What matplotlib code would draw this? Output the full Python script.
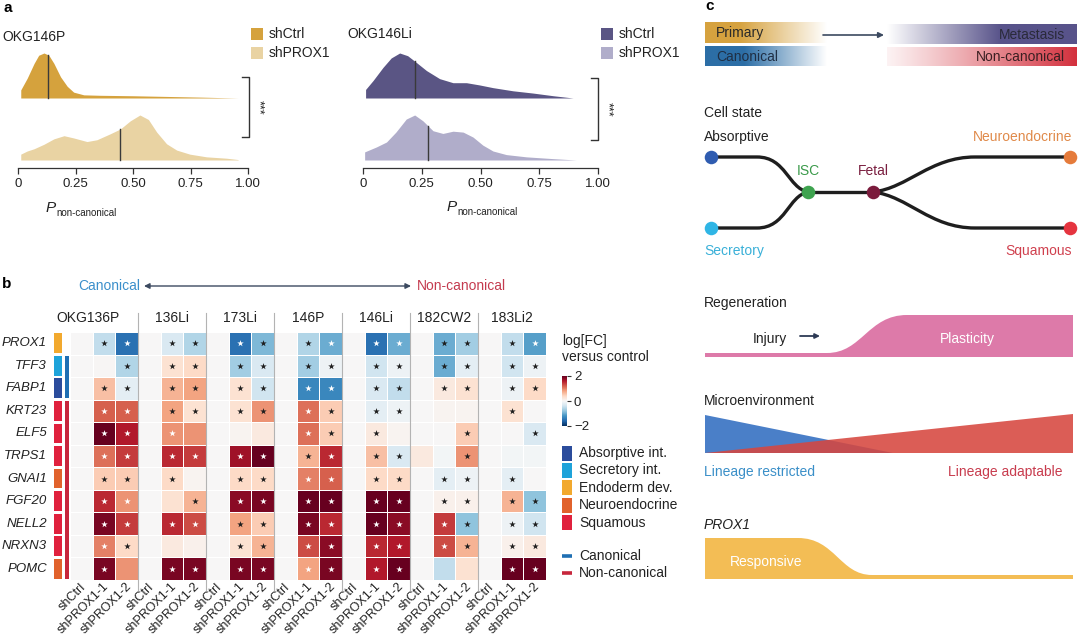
import numpy as np
import matplotlib
matplotlib.use('Agg')
import matplotlib.pyplot as plt
from matplotlib.path import Path
from matplotlib.patches import PathPatch, Rectangle, Polygon, FancyArrowPatch
from matplotlib.colors import to_rgb
from matplotlib.cm import ScalarMappable
from matplotlib.colors import Normalize

plt.rcParams['font.family'] = ['Liberation Sans', 'DejaVu Sans']

# ---------------- DATA ----------------
# panel a: ridge densities (x, relative height), medians
a_left_title = 'OKG146P'
a_right_title = 'OKG146Li'
a_groups = ['shCtrl', 'shPROX1']
left_ctrl_x = [0.012, 0.04, 0.07, 0.09, 0.113, 0.134, 0.156, 0.185, 0.214, 0.242, 0.286, 0.358, 0.50, 0.646, 0.79, 0.957]
left_ctrl_h = [0.18, 0.44, 0.77, 0.95, 1.0, 0.95, 0.77, 0.47, 0.26, 0.13, 0.07, 0.06, 0.05, 0.035, 0.02, 0.0]
left_prox_x = [0.012, 0.04, 0.07, 0.113, 0.156, 0.2, 0.242, 0.3, 0.343, 0.40, 0.445, 0.488, 0.53, 0.567, 0.603, 0.646, 0.69, 0.747, 0.82, 0.906, 0.957]
left_prox_h = [0.13, 0.2, 0.25, 0.35, 0.47, 0.54, 0.49, 0.41, 0.45, 0.58, 0.69, 0.87, 1.0, 0.9, 0.62, 0.36, 0.22, 0.13, 0.07, 0.04, 0.01]
right_ctrl_x = [0.011, 0.043, 0.085, 0.12, 0.156, 0.19, 0.227, 0.27, 0.326, 0.383, 0.44, 0.496, 0.553, 0.638, 0.723, 0.81, 0.894]
right_ctrl_h = [0.19, 0.39, 0.68, 0.89, 1.0, 0.94, 0.79, 0.61, 0.43, 0.34, 0.34, 0.29, 0.23, 0.16, 0.11, 0.05, 0.0]
right_prox_x = [0.007, 0.057, 0.1, 0.14, 0.184, 0.22, 0.255, 0.298, 0.34, 0.383, 0.426, 0.468, 0.51, 0.553, 0.61, 0.695, 0.81, 0.908]
right_prox_h = [0.18, 0.29, 0.40, 0.62, 0.91, 1.0, 0.87, 0.65, 0.59, 0.64, 0.62, 0.51, 0.33, 0.20, 0.12, 0.07, 0.03, 0.0]
left_medians = [0.131, 0.444]
right_medians = [0.22, 0.277]
a_ticks = [0, 0.25, 0.5, 0.75, 1.0]
a_ticklabels = ['0', '0.25', '0.50', '0.75', '1.00']

# panel b: heatmap
genes = ['PROX1', 'TFF3', 'FABP1', 'KRT23', 'ELF5', 'TRPS1', 'GNAI1', 'FGF20', 'NELL2', 'NRXN3', 'POMC']
gene_category = ['Endoderm dev.', 'Secretory int.', 'Absorptive int.', 'Squamous', 'Squamous', 'Squamous',
                 'Neuroendocrine', 'Squamous', 'Squamous', 'Squamous', 'Neuroendocrine']
gene_class = ['', 'Canonical', 'Canonical'] + ['Non-canonical'] * 8
lines = ['OKG136P', '136Li', '173Li', '146P', '146Li', '182CW2', '183Li2']
conditions = ['shCtrl', 'shPROX1-1', 'shPROX1-2']
logfc = [
    [0, -0.5, -1.5, 0, -0.3, -0.6, 0, -1.5, -0.9, 0, -0.6, -1.0, 0, -1.5, -1.0, 0, -1.0, -0.7, 0, -0.5, -1.1],
    [0, 0.02, -0.6, 0, 0.3, 0.4, 0, -0.7, -0.3, 0, -0.7, -0.1, 0, -0.4, -0.1, 0, -1.0, -0.2, 0, -0.4, -0.1],
    [0, 0.6, -0.2, 0, 0.7, 0.8, 0, 0.3, -0.4, 0, -1.3, -1.3, 0, -0.3, -0.5, 0, 0.2, 0.3, 0, -0.1, 0.4],
    [0, 1.2, 1.2, 0, 0.8, 0.3, 0, 0.3, 0.9, 0, 1.1, 0.5, 0, -0.2, -0.1, 0, 0.05, 0.05, 0, 0.3, 0.0],
    [0, 2.0, 1.6, 0, 0.9, 0.9, 0, 0.05, 0.2, 0, 1.1, 0.5, 0, 0.2, 0.05, 0, 0.0, 0.5, 0, 0.0, -0.3],
    [0, 1.1, 1.4, 0, 1.5, 1.4, 0, 1.7, 2.0, 0, 0.7, 1.5, 0, 0.6, -0.3, 0.2, -0.05, 0.9, 0, -0.05, -0.05],
    [0, 0.5, 0.5, 0, 0.4, 0.05, 0, 0.4, 0.4, 0, 1.0, 1.2, 0, 0.4, 0.4, 0, -0.2, -0.1, 0, -0.2, 0.0],
    [0, 1.5, 0.9, 0, 0.3, 0.7, 0, 1.8, 1.9, 0, 2.0, 2.0, 0, 2.0, 2.0, 0, 0.1, 0.1, 0, 0.7, -0.8],
    [0, 1.9, 1.4, 0, 1.5, 1.3, 0, 0.8, 0.5, 0, 1.9, 1.5, 0, 2.0, 1.8, 0, 1.4, -0.8, 0, -0.1, -0.4],
    [0, 1.0, 0.4, 0, 0.2, 0.1, 0, 0.3, 0.7, 0, 1.3, 1.8, 0, 1.5, 1.6, 0, 1.3, 0.7, 0, 0.1, 0.2],
    [0, 1.9, 0.9, 0, 1.9, 1.9, 0, 1.9, 1.9, 0, 0.8, 1.9, 0, 1.6, 2.0, 0, -0.5, 0.3, 0, 2.0, 2.0],
]
# 0 = no star, 1 = dark star, 2 = white star
stars = [
    [0, 1, 2, 0, 1, 1, 0, 2, 1, 0, 1, 2, 0, 2, 2, 0, 1, 1, 0, 1, 2],
    [0, 0, 1, 0, 1, 1, 0, 1, 1, 0, 1, 1, 0, 1, 1, 0, 1, 1, 0, 1, 1],
    [0, 1, 1, 0, 1, 1, 0, 1, 1, 0, 2, 2, 0, 1, 1, 0, 1, 1, 0, 1, 1],
    [0, 2, 2, 0, 1, 1, 0, 1, 1, 0, 2, 1, 0, 1, 1, 0, 0, 0, 0, 1, 0],
    [0, 2, 2, 0, 2, 0, 0, 0, 0, 0, 2, 1, 0, 1, 0, 0, 0, 1, 0, 0, 1],
    [0, 2, 2, 0, 2, 2, 0, 2, 2, 0, 1, 2, 0, 1, 1, 0, 0, 1, 0, 0, 0],
    [0, 1, 1, 0, 1, 0, 0, 1, 1, 0, 2, 2, 0, 1, 1, 0, 1, 1, 0, 1, 0],
    [0, 2, 2, 0, 0, 1, 0, 2, 2, 0, 2, 2, 0, 2, 2, 0, 1, 1, 0, 1, 1],
    [0, 2, 2, 0, 2, 2, 0, 1, 1, 0, 2, 2, 0, 2, 2, 0, 2, 1, 0, 1, 1],
    [0, 2, 1, 0, 0, 0, 0, 1, 1, 0, 2, 2, 0, 2, 2, 0, 2, 1, 0, 1, 1],
    [0, 2, 0, 0, 2, 2, 0, 2, 2, 0, 2, 2, 0, 2, 2, 0, 0, 0, 0, 2, 2],
]
category_names = ['Absorptive int.', 'Secretory int.', 'Endoderm dev.', 'Neuroendocrine', 'Squamous']
class_names = ['Canonical', 'Non-canonical']
cbar_ticks = [-2, 0, 2]
cbar_ticklabels = ['\u22122', '0', '2']

# ---------------- STYLE ----------------
cat_colors = {'Absorptive int.': '#2b4c9c', 'Secretory int.': '#1ea3da', 'Endoderm dev.': '#f2a92e',
              'Neuroendocrine': '#e1622c', 'Squamous': '#e0213d'}
class_colors = {'Canonical': '#1f6fb3', 'Non-canonical': '#c7263c'}
TXT = '#222222'
FS = 10

W, H = 1080, 641
fig = plt.figure(figsize=(W / 100, H / 100), dpi=100)
fig.patch.set_facecolor('white')


def rect(x0, y0, x1, y1):
    return [x0 / W, 1 - y1 / H, (x1 - x0) / W, (y1 - y0) / H]


ov = fig.add_axes([0, 0, 1, 1])
ov.patch.set_visible(False)
ov.axis('off')

# ---------------- PANEL A ----------------
def ridge_panel(px0, px1, curves, medians, colors):
    ax = fig.add_axes(rect(px0, 40, px1, 168))
    ax.patch.set_alpha(0)
    bases = [70, 8]
    for (xs, hs), m, col, b in zip(curves, medians, colors, bases):
        xs = np.asarray(xs)
        hs = np.asarray(hs) * 45
        ax.fill_between(xs, b, b + hs, color=col, lw=0)
        ax.plot([m, m], [b, b + np.interp(m, xs, hs)], color='#3a3a3a', lw=1.0)
    ax.set_xlim(0, 1)
    ax.set_ylim(0, 128)
    for s in ['top', 'right', 'left']:
        ax.spines[s].set_visible(False)
    ax.spines['bottom'].set_color('#333333')
    ax.spines['bottom'].set_linewidth(0.9)
    ax.set_yticks([])
    ax.set_xticks(a_ticks)
    ax.set_xticklabels(a_ticklabels, fontsize=9.5, color=TXT)
    ax.tick_params(axis='x', length=4, width=0.9, pad=3, colors='#333333', labelcolor=TXT)
    return ax


left_cols = ['#d5a23d', '#e9d3a3']
right_cols = ['#5a5584', '#b0adca']
ridge_panel(18, 248, [(left_ctrl_x, left_ctrl_h), (left_prox_x, left_prox_h)], left_medians, left_cols)
ridge_panel(363, 598, [(right_ctrl_x, right_ctrl_h), (right_prox_x, right_prox_h)], right_medians, right_cols)

ov.text(2, 37, a_left_title, fontsize=FS, color=TXT, va='center', ha='left')
ov.text(347, 34, a_right_title, fontsize=FS, color=TXT, va='center', ha='left')
for lx, cols in [(251, left_cols), (601, right_cols)]:
    for k, (g, c) in enumerate(zip(a_groups, cols)):
        yc = 34 + k * 19
        ov.add_patch(Rectangle((lx, yc - 6), 12, 12, color=c, lw=0))
        ov.text(lx + 18, yc, g, fontsize=FS, color=TXT, va='center', ha='left')
for bx, y0, y1 in [(249, 77, 137), (598, 78, 140)]:
    ov.plot([bx - 7, bx, bx, bx - 7], [y0, y0, y1, y1], color='#333333', lw=1.0)
    ov.text(bx + 9, (y0 + y1) / 2, '***', rotation=-90, fontsize=9, color=TXT, va='center', ha='center')
for px, py in [(46, 208), (447, 207)]:
    ov.text(px, py, 'P', fontsize=11, style='italic', color=TXT, va='center', ha='left')
    ov.text(px + 10, py + 5, 'non-canonical', fontsize=7, color=TXT, va='center', ha='left')

# ---------------- PANEL B ----------------
axH = fig.add_axes(rect(70, 332, 546, 580))
axH.axis('off')
vals = np.array(logfc)
ncol = vals.shape[1]
nrow = vals.shape[0]
axH.pcolormesh(np.arange(ncol + 1), np.arange(nrow + 1), vals, cmap='RdBu_r', vmin=-2, vmax=2,
               edgecolors='white', linewidth=0.6)
axH.set_xlim(0, ncol)
axH.set_ylim(nrow, 0)
st = np.array(stars)
for code, col in [(1, '#1e1e1e'), (2, 'white')]:
    ii, jj = np.nonzero(st == code)
    axH.scatter(jj + 0.5, ii + 0.5, marker='*', s=24, c=col, linewidths=0, zorder=3)

cw = (546 - 70) / ncol
rh = (580 - 332) / nrow
for i, g in enumerate(genes):
    axH.text((47 - 70) / cw, i + 0.5, g, style='italic', fontsize=9.5, color=TXT, ha='right', va='center', clip_on=False)
    axH.add_patch(Rectangle(((54 - 70) / cw, i + 0.06), 8 / cw, 0.88, color=cat_colors[gene_category[i]], lw=0, clip_on=False))
for cls in class_names:
    idx = [i for i, c in enumerate(gene_class) if c == cls]
    axH.add_patch(Rectangle(((65 - 70) / cw, min(idx) + 0.06), 4 / cw, max(idx) - min(idx) + 0.88,
                            color=class_colors[cls], lw=0, clip_on=False))
nc = len(conditions)
for gi, ln in enumerate(lines):
    if gi == 0:
        axH.text(gi * nc + 2.2, (318 - 332) / rh, ln, fontsize=FS, color=TXT, ha='right', va='center', clip_on=False)
    else:
        axH.text(gi * nc + nc / 2, (318 - 332) / rh, ln, fontsize=FS, color=TXT, ha='center', va='center', clip_on=False)
    if gi > 0:
        axH.plot([gi * nc, gi * nc], [(313 - 332) / rh, nrow + 0.45], color='#b3b3b3', lw=0.8, clip_on=False, zorder=4)
    for ci, cn in enumerate(conditions):
        j = gi * nc + ci
        axH.text(j + 0.62, nrow + 0.22, cn, fontsize=9, color=TXT, rotation=45, rotation_mode='anchor',
                 ha='right', va='center', clip_on=False)

ov.text(78, 286, 'Canonical', fontsize=FS, color='#3b8fcb', va='center', ha='left')
ov.text(417, 286, 'Non-canonical', fontsize=FS, color='#c43b4f', va='center', ha='left')
ov.add_patch(FancyArrowPatch((144, 286), (411, 286), arrowstyle='<|-|>', mutation_scale=8,
                             color='#3c4a60', lw=1.0, shrinkA=0, shrinkB=0))

# colorbar
axCB = fig.add_axes(rect(562, 376, 567, 426))
cb = fig.colorbar(ScalarMappable(norm=Normalize(-2, 2), cmap='RdBu_r'), cax=axCB, ticks=cbar_ticks)
cb.outline.set_visible(False)
cb.ax.set_yticklabels(cbar_ticklabels)
cb.ax.tick_params(length=3, width=0.8, labelsize=9.5, colors='#333333', labelcolor=TXT, pad=2)
ov.text(562, 341, 'log[FC]', fontsize=FS, color=TXT, va='center', ha='left')
ov.text(562, 357, 'versus control', fontsize=FS, color=TXT, va='center', ha='left')

for k, cname in enumerate(category_names):
    yc = 453 + k * 17.4
    ov.add_patch(Rectangle((562, yc - 7.5), 9.5, 15, color=cat_colors[cname], lw=0))
    ov.text(579, yc, cname, fontsize=FS, color=TXT, va='center', ha='left')
for k, cname in enumerate(class_names):
    yc = 556 + k * 17
    ov.plot([562, 572], [yc, yc], color=class_colors[cname], lw=2.6, solid_capstyle='butt')
    ov.text(579, yc, cname, fontsize=FS, color=TXT, va='center', ha='left')

# ---------------- PANEL C ----------------
def hgrad(x0, x1, y0, y1, color, weights):
    c = np.array(to_rgb(color))
    w = np.asarray(weights)[:, None]
    img = (1 - w) * np.ones(3) + w * c
    ov.imshow(img[None, :, :], extent=[x0, x1, y1, y0], aspect='auto', interpolation='bilinear', zorder=1)


t = np.linspace(0, 1, 300)
hgrad(705, 827, 22, 43, '#d6a23f', np.clip((1 - t) / 0.72, 0, 1))
hgrad(705, 827, 46, 66, '#2c6ea6', np.clip((1 - t) / 0.68, 0, 1))
hgrad(887, 1077, 24, 44, '#58538a', np.clip(t / 0.6, 0, 1))
hgrad(887, 1077, 47, 66, '#d3303d', 0.06 + 0.94 * t ** 1.1)
ov.text(716, 33, 'Primary', fontsize=FS, color='#2a2a2a', va='center', ha='left', zorder=3)
ov.text(716, 57, 'Canonical', fontsize=FS, color='#1f2f45', va='center', ha='left', zorder=3)
ov.text(1065, 35, 'Metastasis', fontsize=FS, color='#2a2a3a', va='center', ha='right', zorder=3)
ov.text(1065, 57, 'Non-canonical', fontsize=FS, color='#3a1f22', va='center', ha='right', zorder=3)
ov.add_patch(FancyArrowPatch((823, 35), (884, 35), arrowstyle='-|>', mutation_scale=8,
                             color='#3c4a60', lw=1.2, shrinkA=0, shrinkB=0, zorder=3))

# cell state diagram
ov.text(704, 113, 'Cell state', fontsize=FS, color=TXT, va='center', ha='left')
ov.text(704, 137, 'Absorptive', fontsize=FS, color=TXT, va='center', ha='left')
ov.text(1072, 137, 'Neuroendocrine', fontsize=FS, color='#e08a4a', va='center', ha='right')
ov.text(808, 171, 'ISC', fontsize=FS, color='#3a9a4a', va='center', ha='center')
ov.text(873, 171, 'Fetal', fontsize=FS, color='#7a1f40', va='center', ha='center')
ov.text(704, 251, 'Secretory', fontsize=FS, color='#3ab0d8', va='center', ha='left')
ov.text(1072, 251, 'Squamous', fontsize=FS, color='#d0404e', va='center', ha='right')

M, L, C = Path.MOVETO, Path.LINETO, Path.CURVE4
paths = [
    ([(711, 157), (757, 157), (786, 157), (788, 188), (808, 192)], [M, L, C, C, C]),
    ([(711, 228), (757, 228), (786, 228), (788, 196), (808, 192)], [M, L, C, C, C]),
    ([(808, 192), (873, 192)], [M, L]),
    ([(873, 192), (908, 188), (930, 157), (975, 157), (1070, 157)], [M, C, C, C, L]),
    ([(873, 192), (908, 196), (930, 228), (975, 228), (1070, 228)], [M, C, C, C, L]),
]
for v, cds in paths:
    ov.add_patch(PathPatch(Path(v, cds), fill=False, lw=2.4, edgecolor='#1e1e1e', capstyle='round', zorder=2))
nodes = [((711, 157), '#2f5cb0'), ((711, 228), '#2fb5e5'), ((808, 192), '#3ea34f'),
         ((873, 192), '#7b1b3c'), ((1070, 157), '#e57b3b'), ((1070, 228), '#e5343f')]
for (nx, ny), c in nodes:
    ov.scatter([nx], [ny], s=95, color=c, zorder=3, linewidths=0)

# regeneration
ov.text(704, 303, 'Regeneration', fontsize=FS, color=TXT, va='center', ha='left')
reg = Path([(705, 357), (705, 353), (827, 353), (862, 353), (868, 315), (907, 315), (1073, 315), (1073, 357), (705, 357)],
           [M, L, L, C, C, C, L, L, Path.CLOSEPOLY])
ov.add_patch(PathPatch(reg, facecolor='#dd7aa9', edgecolor='none', zorder=1))
ov.text(753, 339, 'Injury', fontsize=FS, color=TXT, va='center', ha='left')
ov.add_patch(FancyArrowPatch((800, 336), (820, 336), arrowstyle='-|>', mutation_scale=7,
                             color='#2d3a55', lw=1.3, shrinkA=0, shrinkB=0))
ov.text(967, 339, 'Plasticity', fontsize=FS, color='white', va='center', ha='center', zorder=2)

# microenvironment
ov.text(704, 401, 'Microenvironment', fontsize=FS, color=TXT, va='center', ha='left')
ov.add_patch(Polygon([(705, 415), (705, 453), (893, 453)], closed=True, facecolor='#4a7fc8', edgecolor='none', zorder=1))
ov.add_patch(Polygon([(705, 453), (1073, 414), (1073, 453)], closed=True, facecolor='#d6473f', alpha=0.88,
                     edgecolor='none', zorder=2))
ov.text(704, 472, 'Lineage restricted', fontsize=FS, color='#3a8fc8', va='center', ha='left')
ov.text(1063, 472, 'Lineage adaptable', fontsize=FS, color='#c83c4e', va='center', ha='right')

# PROX1
ov.text(704, 525, 'PROX1', fontsize=FS, style='italic', color=TXT, va='center', ha='left')
prox = Path([(705, 579), (705, 538), (798, 538), (835, 538), (840, 575), (872, 575), (1073, 575), (1073, 579), (705, 579)],
            [M, L, L, C, C, C, L, L, Path.CLOSEPOLY])
ov.add_patch(PathPatch(prox, facecolor='#f3bd55', edgecolor='none', zorder=1))
ov.text(730, 562, 'Responsive', fontsize=FS, color='white', va='center', ha='left', zorder=2)

# panel letters
ov.text(4, 1, 'a', fontsize=11, fontweight='bold', color='black', va='top', ha='left')
ov.text(2, 277, 'b', fontsize=11, fontweight='bold', color='black', va='top', ha='left')
ov.text(705, -1, 'c', fontsize=11, fontweight='bold', color='black', va='top', ha='left')

ov.set_xlim(0, W)
ov.set_ylim(H, 0)
fig.savefig('out.png', dpi=100)
